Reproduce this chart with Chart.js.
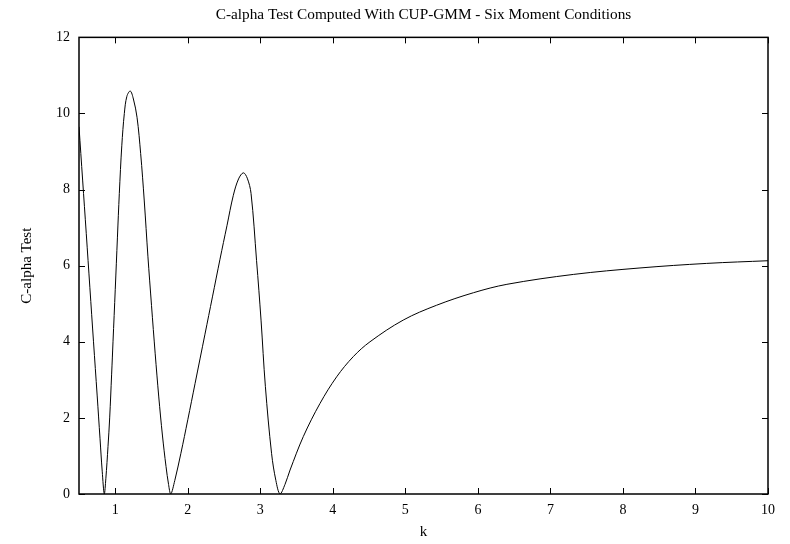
<!DOCTYPE html>
<html>
<head>
<meta charset="utf-8">
<script src="https://cdn.jsdelivr.net/npm/chart.js@4"></script>
<style>
  html, body { margin: 0; padding: 0; background: #fff; }
</style>
</head>
<body>
<canvas id="grafico" width="790" height="544"></canvas>
<script>
// valores (k e estatistica C-alpha)
const kValues = [0.50, 0.55, 0.60, 0.65, 0.70, 0.75, 0.79, 0.82, 0.849,
  0.87, 0.90, 0.923, 0.95, 0.969, 1.00, 1.03, 1.056, 1.09, 1.125, 1.16, 1.207,
  1.25, 1.30, 1.35, 1.40, 1.45, 1.50, 1.55, 1.60, 1.65, 1.70, 1.735, 1.765,
  1.82, 1.905, 2.00, 2.10, 2.237, 2.34, 2.444, 2.54, 2.628, 2.70, 2.766,
  2.82, 2.872, 2.948, 3.01, 3.07, 3.155, 3.215, 3.272,
  3.34, 3.41, 3.593, 3.823, 4.053, 4.282, 4.512, 4.97, 5.43, 5.94, 6.40,
  7.316, 8.235, 9.155, 10.0];
const cAlphaValues = [9.65, 8.25, 6.85, 5.42, 4.0, 2.6, 1.45, 0.6, 0.0,
  0.4, 1.25, 2.0, 3.15, 4.0, 5.38, 6.75, 7.9, 9.15, 10.0, 10.45, 10.59,
  10.38, 9.9, 8.95, 7.7, 6.25, 4.95, 3.7, 2.55, 1.55, 0.72, 0.25, 0.0,
  0.35, 1.07, 1.95, 2.9, 4.2, 5.18, 6.17, 7.05, 7.85, 8.28, 8.44,
  8.3, 7.9, 6.14, 4.57, 2.82, 1.07, 0.35, 0.0,
  0.25, 0.63, 1.51, 2.38, 3.08, 3.61, 4.0, 4.57, 4.96, 5.29, 5.51,
  5.77, 5.94, 6.06, 6.13];
const xTicks = [1, 2, 3, 4, 5, 6, 7, 8, 9, 10];
const yTicks = [0, 2, 4, 6, 8, 10, 12];

const fonte = "'Liberation Serif', 'DejaVu Serif', serif";

// moldura e marcas de escala para dentro (estilo gnuplot)
const moldura = {
  id: "moldura",
  afterDatasetsDraw(chart) {
    const { ctx, chartArea: a, scales } = chart;
    const len = 6;
    ctx.save();
    ctx.strokeStyle = "#000";
    ctx.lineWidth = 1;
    ctx.beginPath();
    scales.x.ticks.forEach((t, i) => {
      const px = Math.round(scales.x.getPixelForTick(i)) + 0.5;
      ctx.moveTo(px, a.bottom); ctx.lineTo(px, a.bottom - len);
      ctx.moveTo(px, a.top); ctx.lineTo(px, a.top + len);
    });
    scales.y.ticks.forEach((t, i) => {
      const py = Math.round(scales.y.getPixelForTick(i)) + 0.5;
      ctx.moveTo(a.left, py); ctx.lineTo(a.left + len, py);
      ctx.moveTo(a.right, py); ctx.lineTo(a.right - len, py);
    });
    ctx.stroke();
    ctx.lineWidth = 1.5;
    ctx.strokeRect(a.left, a.top, a.right - a.left, a.bottom - a.top);
    ctx.restore();
  }
};

const canvas = document.getElementById("grafico");

let grafico = new Chart(canvas, {
  type: "line",
  data: {
    datasets: [{
      label: "C-alpha Test",
      data: kValues.map((k, i) => ({ x: k, y: cAlphaValues[i] })),
      borderColor: "#000",
      borderWidth: 1,
      pointRadius: 0,
      fill: false,
      tension: 0.35
    }]
  },
  options: {
    responsive: false,
    animation: false,
    devicePixelRatio: 1,
    layout: { padding: { left: 0, right: 22, top: 0, bottom: 0 } },
    plugins: {
      legend: { display: false },
      tooltip: { enabled: false },
      title: {
        display: true,
        fullSize: false,
        text: "C-alpha Test Computed With CUP-GMM - Six Moment Conditions",
        color: "#000",
        font: { family: fonte, size: 15.3, weight: "normal" },
        padding: { top: 6, bottom: 13 }
      }
    },
    scales: {
      x: {
        type: "linear",
        min: 0.5,
        max: 10,
        afterBuildTicks: (s) => { s.ticks = xTicks.map(v => ({ value: v })); },
        afterFit: (s) => { s.height = 50; },
        grid: { display: false, drawTicks: false },
        border: { display: false },
        ticks: { color: "#000", padding: 8, maxRotation: 0, autoSkip: false, font: { family: fonte, size: 14 } },
        title: {
          display: true, text: "k", color: "#000",
          font: { family: fonte, size: 15 },
          padding: { top: 0, bottom: 3 }
        }
      },
      y: {
        min: 0,
        max: 12,
        afterBuildTicks: (s) => { s.ticks = yTicks.map(v => ({ value: v })); },
        afterFit: (s) => { s.width = 79; },
        grid: { display: false, drawTicks: false },
        border: { display: false },
        ticks: { color: "#000", padding: 9, autoSkip: false, font: { family: fonte, size: 14 } },
        title: {
          display: true, text: "C-alpha Test", color: "#000",
          font: { family: fonte, size: 15 },
          padding: { top: 18, bottom: 0 }
        }
      }
    }
  },
  plugins: [moldura]
});
</script>
</body>
</html>
